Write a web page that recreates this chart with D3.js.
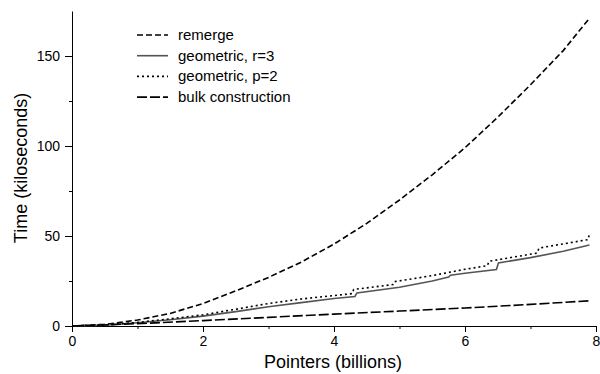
<!DOCTYPE html>
<html>
<head>
<meta charset="utf-8">
<script src="https://cdn.jsdelivr.net/npm/d3@7"></script>
<style>
  body { margin: 0; background: #fff; }
  svg { font-family: "Liberation Sans", Arial, sans-serif; }
  .axis path, .axis line { stroke: #000; }
  .axis text { font-size: 14px; fill: #000; }
</style>
</head>
<body>
<script>
// data: [pointers (billions), time (kiloseconds)]
var remerge = [[0,0],[0.5,0.9],[1,3.3],[1.5,7],[2,12.5],[2.5,19.5],[3,27],[3.5,35.5],[4,45.5],
  [4.5,57],[5,70],[5.5,84],[6,99],[6.5,116],[7,134],[7.5,153],[7.9,171]];
var geomR3 = [[0,0],[0.5,0.5],[1,1.8],[1.5,3.5],[2,5.5],[2.5,8],[3,10.7],[3.5,13],[4,15.3],
  [4.32,16.4],[4.35,18.4],[5,21.5],[5.5,25],[5.75,27.2],[5.78,28.2],[6,29.3],[6.48,31.4],
  [6.51,35],[7,38],[7.5,41.5],[7.9,45]];
var geomP2 = [[0,0],[0.5,0.6],[1,2],[1.5,4],[2,6.2],[2.5,9.3],[3,12.5],[3.5,15],[4.28,18],
  [4.3,20.3],[4.9,23],[4.92,24.6],[5.5,28],[6,31.5],[6.34,33.5],[6.37,36],[7.1,40.5],
  [7.13,43.3],[7.88,48],[7.9,51.5]];
var bulk = [[0,0],[1,1.3],[2,3],[3,4.8],[4,6.6],[5,8.3],[6,10],[7,12],[7.9,14]];

var seriesNames = ['remerge', 'geometric, r=3', 'geometric, p=2', 'bulk construction'];
var xTicks = [0, 2, 4, 6, 8];
var yTicks = [0, 50, 100, 150];

var width = 600, height = 374;
var margin = {top: 11, right: 4, bottom: 48, left: 72};

var svg = d3.select('body').append('svg')
    .attr('width', width)
    .attr('height', height);

var x = d3.scaleLinear().domain([0, 8]).range([margin.left, width - margin.right]);
var y = d3.scaleLinear().domain([0, 175]).range([height - margin.bottom, margin.top]);

// minor ticks
svg.append('g')
    .attr('class', 'axis')
    .attr('transform', 'translate(0,' + y(0) + ')')
    .call(d3.axisBottom(x).tickValues([1, 3, 5, 7]).tickSize(3).tickFormat(''))
    .select('.domain').remove();
svg.append('g')
    .attr('class', 'axis')
    .attr('transform', 'translate(' + x(0) + ',0)')
    .call(d3.axisLeft(y).tickValues([25, 75, 125]).tickSize(3).tickFormat(''))
    .select('.domain').remove();

// major axes
svg.append('g')
    .attr('class', 'axis')
    .attr('transform', 'translate(0,' + y(0) + ')')
    .call(d3.axisBottom(x).tickValues(xTicks).tickSize(6).tickSizeOuter(0).tickPadding(4));
svg.append('g')
    .attr('class', 'axis')
    .attr('transform', 'translate(' + x(0) + ',0)')
    .call(d3.axisLeft(y).tickValues(yTicks).tickSize(7).tickSizeOuter(0).tickPadding(5));

svg.selectAll('.axis text').style('font-size', '14px');

// axis titles
svg.append('text')
    .attr('x', 333)
    .attr('y', 368)
    .attr('text-anchor', 'middle')
    .style('font-size', '18px')
    .text('Pointers (billions)');
svg.append('text')
    .attr('transform', 'translate(27,' + 168 + ') rotate(-90)')
    .attr('text-anchor', 'middle')
    .style('font-size', '18px')
    .text('Time (kiloseconds)');

// lines
var line = d3.line()
    .x(function(d) { return x(d[0]); })
    .y(function(d) { return y(d[1]); });

var styles = [
  {data: remerge, stroke: '#000', dash: '6,3', width: 1.6},
  {data: geomR3, stroke: '#555', dash: null, width: 1.6},
  {data: geomP2, stroke: '#000', dash: '2,3', width: 1.6},
  {data: bulk, stroke: '#000', dash: '10,3', width: 1.6}
];

svg.selectAll('path.series')
  .data(styles)
  .enter()
  .append('path')
    .attr('class', 'series')
    .attr('d', function(d) { return line(d.data); })
    .attr('fill', 'none')
    .attr('stroke', function(d) { return d.stroke; })
    .attr('stroke-width', function(d) { return d.width; })
    .attr('stroke-dasharray', function(d) { return d.dash; });

// legend
var legend = svg.append('g')
    .attr('transform', 'translate(137,35)');

var items = legend.selectAll('g')
  .data(styles)
  .enter()
  .append('g')
    .attr('transform', function(d, i) { return 'translate(0,' + (i * 20.7) + ')'; });

items.append('line')
    .attr('x1', 0)
    .attr('x2', 31)
    .attr('stroke', function(d) { return d.stroke; })
    .attr('stroke-width', function(d) { return d.width; })
    .attr('stroke-dasharray', function(d) { return d.dash; });

items.append('text')
    .attr('x', 41)
    .attr('y', 5)
    .style('font-size', '15px')
    .text(function(d, i) { return seriesNames[i]; });
</script>
</body>
</html>
